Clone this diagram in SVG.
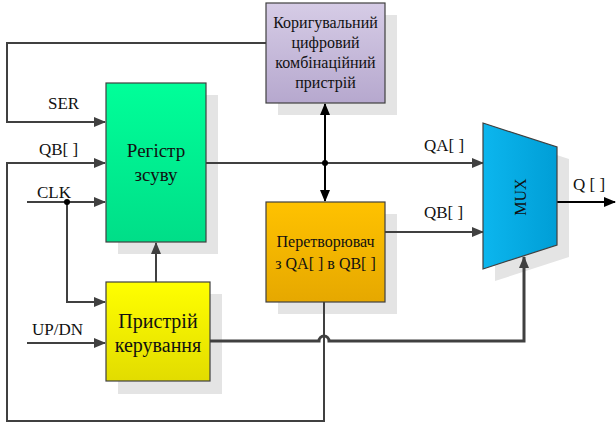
<svg xmlns="http://www.w3.org/2000/svg" width="616" height="424" viewBox="0 0 616 424" font-family="Liberation Serif, DejaVu Serif, serif">
<defs>
<linearGradient id="gReg" x1="0" y1="0" x2="0" y2="1"><stop offset="0" stop-color="#00FF99"/><stop offset="1" stop-color="#00DE88"/></linearGradient>
<linearGradient id="gPur" x1="0" y1="0" x2="0" y2="1"><stop offset="0" stop-color="#D6CCE6"/><stop offset="1" stop-color="#B6A8CE"/></linearGradient>
<linearGradient id="gOr" x1="0" y1="0" x2="0" y2="1"><stop offset="0" stop-color="#FFC200"/><stop offset="1" stop-color="#E6A800"/></linearGradient>
<linearGradient id="gYel" x1="0" y1="0" x2="0" y2="1"><stop offset="0" stop-color="#FFFF00"/><stop offset="1" stop-color="#E2DC00"/></linearGradient>
<linearGradient id="gMux" x1="0" y1="0" x2="1" y2="0"><stop offset="0" stop-color="#0CB6EE"/><stop offset="1" stop-color="#009ED6"/></linearGradient>
<marker id="ag" markerWidth="12" markerHeight="10" refX="11" refY="5" orient="auto" markerUnits="userSpaceOnUse"><path d="M0,0 L12,5 L0,10 z" fill="#404040"/></marker>
<marker id="ab" markerWidth="12" markerHeight="10" refX="11" refY="5" orient="auto" markerUnits="userSpaceOnUse"><path d="M0,0 L12,5 L0,10 z" fill="#000"/></marker>
</defs>
<style>
.box{stroke:#404040;stroke-width:1.2}
.sh{fill:#E4E4E4}
text{fill:#111}
.t{text-anchor:middle}
.w{fill:none;stroke:#404040;stroke-width:2}
.wb{fill:none;stroke:#000;stroke-width:2}
</style>
<rect width="616" height="424" fill="#fff"/>
<g id="shadows">
<rect class="sh" x="118" y="95" width="100" height="159"/>
<rect class="sh" x="278" y="15" width="119" height="100"/>
<rect class="sh" x="278" y="214" width="119" height="100"/>
<rect class="sh" x="118" y="294" width="104" height="100"/>
<polygon class="sh" points="495,135 569,159 569,257 495,281"/>
</g>
<g id="connectors">
<path class="w" d="M266,43 H7 V122 H105" marker-end="url(#ag)"/>
<path class="w" d="M324,302 V421 H7 V163 H105" marker-end="url(#ag)"/>
<path class="w" d="M27,202 H105" marker-end="url(#ag)"/>
<path class="w" d="M67,202 V302 H105" marker-end="url(#ag)"/>
<path class="w" d="M27,343 H105" marker-end="url(#ag)"/>
<path class="w" d="M156,282 V243" marker-end="url(#ag)"/>
<path fill="none" stroke="#404040" stroke-width="3" d="M210,341 H319 A5,5 0 0 1 329,341 H524 V257" marker-end="url(#ag)"/>
<path class="w" d="M206,163 H483" marker-end="url(#ag)"/>
<path class="wb" d="M325,163 V104" marker-end="url(#ab)"/>
<path class="wb" d="M325,163 V201" marker-end="url(#ab)"/>
<circle cx="325" cy="163" r="3" fill="#000"/>
<circle cx="67" cy="202" r="3" fill="#000"/>
<path class="w" d="M385,232 H483" marker-end="url(#ag)"/>
<path class="wb" d="M557,202 H615" marker-end="url(#ab)"/>
</g>
<g id="reg">
<rect class="box" x="106" y="83" width="100" height="159" fill="url(#gReg)"/>
<text class="t" x="156" y="157" font-size="19">Регістр</text>
<text class="t" x="156" y="181" font-size="19">зсуву</text>
</g>
<g id="corr">
<rect class="box" x="266" y="3" width="119" height="100" fill="url(#gPur)"/>
<text class="t" x="325.5" y="28" font-size="16">Коригувальний</text>
<text class="t" x="325.5" y="48" font-size="16">цифровий</text>
<text class="t" x="325.5" y="68" font-size="16">комбінаційний</text>
<text class="t" x="325.5" y="88" font-size="16">пристрій</text>
</g>
<g id="conv">
<rect class="box" x="266" y="202" width="119" height="100" fill="url(#gOr)"/>
<text class="t" x="325.5" y="247" font-size="16">Перетворювач</text>
<text class="t" x="325.5" y="269" font-size="16">з QA[ ] в QB[ ]</text>
</g>
<g id="ctrl">
<rect class="box" x="106" y="282" width="104" height="99" fill="url(#gYel)"/>
<text class="t" x="158" y="328" font-size="20">Пристрій</text>
<text class="t" x="158" y="352" font-size="20">керування</text>
</g>
<g id="mux">
<polygon class="box" points="483,123 557,147 557,245 483,269" fill="url(#gMux)"/>
<text class="t" x="0" y="0" font-size="16" transform="translate(526,197) rotate(-90)">MUX</text>
</g>
<g id="labels">
<text x="48" y="109" font-size="17">SER</text>
<text x="39" y="155" font-size="17">QB[ ]</text>
<text x="37" y="198" font-size="17">CLK</text>
<text x="32" y="335" font-size="17">UP/DN</text>
<text x="424" y="151" font-size="17">QA[ ]</text>
<text x="424" y="218" font-size="17">QB[ ]</text>
<text x="573" y="190" font-size="17">Q [ ]</text>
</g>
</svg>
